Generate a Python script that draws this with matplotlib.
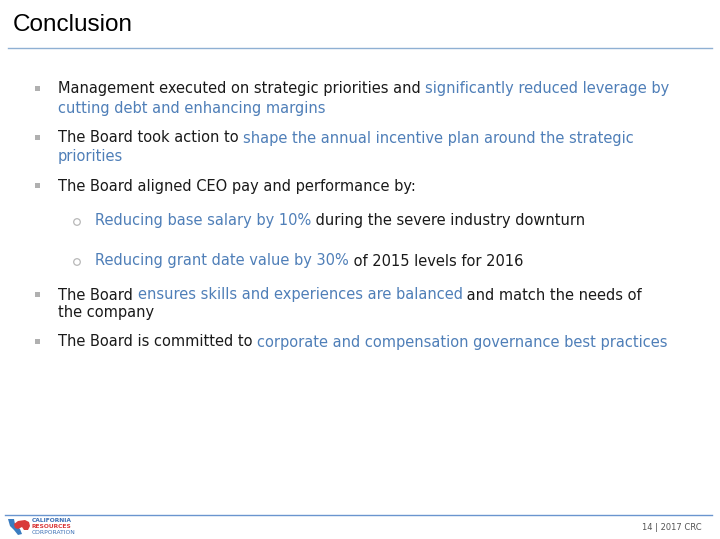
import matplotlib
matplotlib.use("Agg")
import matplotlib.pyplot as plt
import matplotlib.patches as patches

# slide text, split into (text, highlighted) segments per line
title = "Conclusion"
bullet_lines = [
    [("Management executed on strategic priorities and ", False), ("significantly reduced leverage by", True)],
    [("cutting debt and enhancing margins", True)],
    [("The Board took action to ", False), ("shape the annual incentive plan around the strategic", True)],
    [("priorities", True)],
    [("The Board aligned CEO pay and performance by:", False)],
    [("Reducing base salary by 10%", True), (" during the severe industry downturn", False)],
    [("Reducing grant date value by 30%", True), (" of 2015 levels for 2016", False)],
    [("The Board ", False), ("ensures skills and experiences are balanced", True), (" and match the needs of", False)],
    [("the company", False)],
    [("The Board is committed to ", False), ("corporate and compensation governance best practices", True)],
]
line_y = [89, 108, 138, 157, 186, 221, 261, 295, 313, 342]
line_kind = ["b", "c", "b", "c", "b", "s", "s", "b", "c", "b"]  # bullet / continuation / sub-bullet
footer = "14 | 2017 CRC"

BLUE = "#4f7fb8"
BLACK = "#1a1a1a"
FS = 10.5

fig = plt.figure(figsize=(7.2, 5.39), dpi=100)
ax = fig.add_axes([0, 0, 1, 1])
ax.set_xlim(0, 720)
ax.set_ylim(539, 0)
ax.axis("off")
renderer = fig.canvas.get_renderer()

ax.text(13, 25, title, fontsize=17.5, family=["Liberation Sans Narrow", "Liberation Sans"],
        va="center", ha="left", color="black")
ax.plot([8, 712], [48, 48], color="#8fb0d3", lw=1.0)


def draw_segments(x, y, segs):
    for txt, hi in segs:
        t = ax.text(x, y, txt, fontsize=FS, va="center", ha="left",
                    color=BLUE if hi else BLACK, family="DejaVu Sans")
        bb = t.get_window_extent(renderer=renderer)
        x += bb.width


for segs, y, kind in zip(bullet_lines, line_y, line_kind):
    if kind == "b":
        ax.add_patch(patches.Rectangle((34.5, y - 3), 5, 5, color="#b0b0b0", lw=0))
        draw_segments(58, y, segs)
    elif kind == "c":
        draw_segments(58, y, segs)
    else:
        ax.add_patch(patches.Circle((77, y + 1), 3.3, fill=False, ec="#b8b8b8", lw=0.9))
        draw_segments(95, y, segs)

# footer
ax.plot([5, 712], [515, 515], color="#6a95cf", lw=1.0)
ax.text(702, 527, footer, fontsize=6, ha="right", va="center", color="#555555")

# logo: state outline in blue, bear in red
ax.add_patch(patches.Polygon([(8, 519), (14, 519), (15, 524), (20, 529), (22, 534), (18, 535),
                              (14, 530), (10, 526)],
                             closed=True, color="#3a7cc0", lw=0))
ax.add_patch(patches.Polygon([(14, 524), (18, 521), (25, 520), (29, 522), (30, 526), (28, 530),
                              (24, 530), (22, 527), (18, 529), (15, 528)],
                             closed=True, color="#d93a3a", lw=0))
ax.text(32, 520, "CALIFORNIA", fontsize=4.3, color="#3a6fb5", va="center", ha="left", weight="bold")
ax.text(32, 526.5, "RESOURCES", fontsize=4.3, color="#d93a3a", va="center", ha="left", weight="bold")
ax.text(32, 532.5, "CORPORATION", fontsize=4.3, color="#3a6fb5", va="center", ha="left")

fig.savefig("out.png", dpi=100)
